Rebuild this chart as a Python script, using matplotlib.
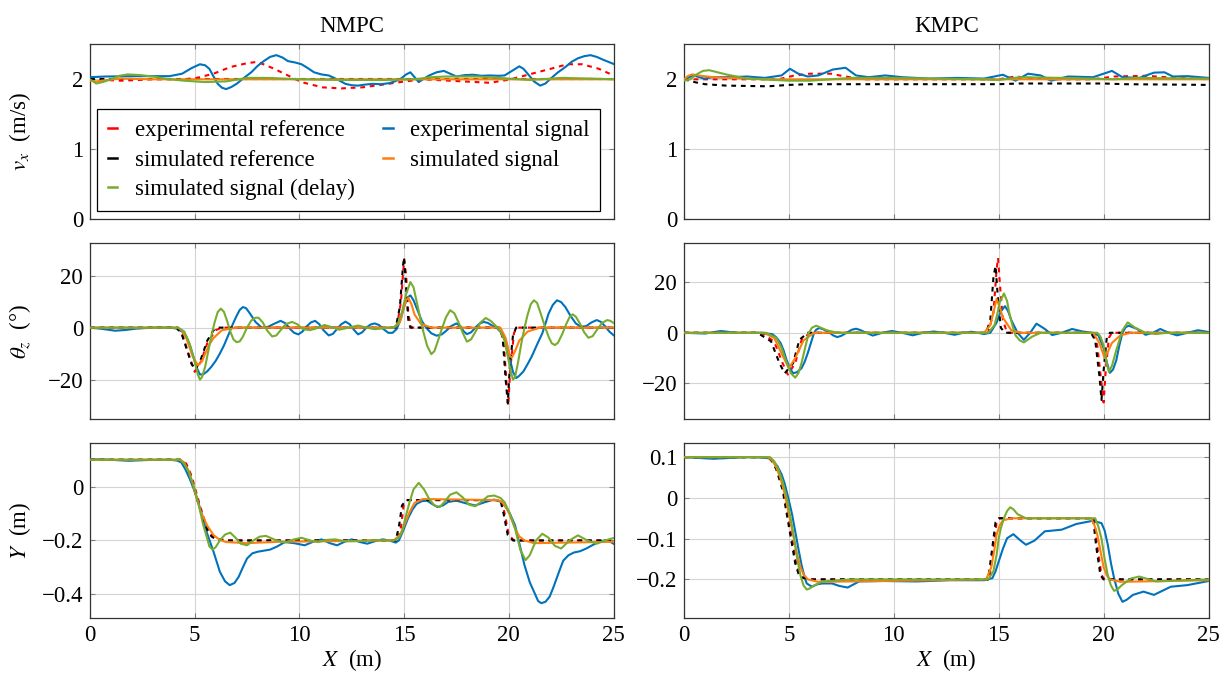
import matplotlib
matplotlib.use("Agg")
import matplotlib.pyplot as plt
from matplotlib.lines import Line2D
from matplotlib.ticker import FuncFormatter

plt.rcParams['font.family'] = ['Liberation Serif', 'DejaVu Serif']
plt.rcParams['mathtext.fontset'] = 'stix'
FS = 16.5
plt.rcParams['font.size'] = FS

X_TICKS = [0, 5, 10, 15, 20, 25]

# ---------------- NMPC, v_x (m/s) ----------------
nmpc_vx_exp_ref = [(0, 2.0), (1.5, 1.98), (3, 2.0), (4.5, 2.0), (5.1, 2.02), (5.9, 2.08), (6.7, 2.175),
                   (7.5, 2.23), (8.0, 2.25), (8.8, 2.15), (9.45, 2.055), (10.1, 1.96), (11.1, 1.885),
                   (12.0, 1.87), (13.0, 1.885), (14.0, 1.925), (14.8, 1.96), (15.9, 2.0), (17.5, 1.975),
                   (19.1, 1.95), (20.1, 2.0), (21.1, 2.08), (22.0, 2.15), (22.8, 2.215), (23.5, 2.215),
                   (24.3, 2.15), (25, 2.055)]
nmpc_vx_exp_sig = [(0, 2.03), (0.73, 2.04), (2.2, 2.045), (3.8, 2.045), (4.4, 2.08), (4.85, 2.16),
                   (5.25, 2.215), (5.5, 2.2), (5.7, 2.15), (5.9, 2.04), (6.1, 1.935), (6.3, 1.88),
                   (6.5, 1.86), (6.75, 1.89), (7.0, 1.935), (7.35, 2.02), (7.7, 2.10), (8.0, 2.19),
                   (8.3, 2.26), (8.6, 2.32), (8.9, 2.345), (9.2, 2.31), (9.45, 2.26), (9.8, 2.24),
                   (10.1, 2.215), (10.4, 2.16), (10.7, 2.10), (11.05, 2.07), (11.4, 2.055), (11.8, 2.0),
                   (12.2, 1.935), (12.5, 1.915), (12.8, 1.91), (13.15, 1.925), (13.5, 1.935), (13.9, 1.93),
                   (14.3, 1.945), (14.6, 1.975), (14.85, 2.01), (15.1, 2.07), (15.3, 2.10), (15.5, 2.03),
                   (15.7, 1.96), (15.95, 2.01), (16.2, 2.055), (16.55, 2.1), (16.9, 2.12), (17.2, 2.08),
                   (17.5, 2.04), (17.9, 2.06), (18.3, 2.065), (18.7, 2.05), (19.1, 2.055), (19.5, 2.05),
                   (19.8, 2.055), (20.15, 2.12), (20.5, 2.185), (20.7, 2.15), (20.9, 2.08), (21.2, 1.97),
                   (21.5, 1.91), (21.75, 1.94), (22.0, 2.01), (22.35, 2.1), (22.7, 2.175), (23.0, 2.25),
                   (23.3, 2.30), (23.6, 2.33), (23.9, 2.345), (24.2, 2.32), (24.5, 2.28), (24.75, 2.25),
                   (25, 2.22)]
nmpc_vx_sim_ref = [(0, 2.0), (25, 2.0)]
nmpc_vx_sim_sig = [(0, 1.98), (0.3, 1.97), (0.8, 1.99), (1.5, 2.01), (3, 2.0), (25, 2.0)]
nmpc_vx_sim_delay = [(0, 2.0), (0.3, 1.94), (0.6, 1.96), (1.0, 2.0), (1.4, 2.05), (1.8, 2.07),
                     (2.4, 2.06), (3.0, 2.04), (3.8, 2.0), (4.5, 1.98), (5.5, 1.96), (6.5, 1.97),
                     (7.5, 2.02), (8.5, 2.02), (10, 2.0), (12, 1.99), (14, 1.99), (15.5, 2.0),
                     (16.3, 2.03), (17, 2.04), (18.5, 2.04), (20, 2.01), (21, 1.99), (22.5, 2.02),
                     (24, 2.01), (25, 2.0)]

# ---------------- KMPC, v_x (m/s) ----------------
kmpc_vx_exp_ref = [(0, 2.0), (4.5, 2.0), (5.2, 2.05), (6.0, 2.08), (7.0, 2.08), (7.5, 2.05), (8.5, 2.0),
                   (15, 2.0), (15.8, 2.04), (16.5, 2.02), (17.5, 2.0), (19.5, 2.0), (20.5, 2.04),
                   (22, 2.05), (23, 2.03), (25, 2.0)]
kmpc_vx_exp_sig = [(0, 2.0), (0.45, 2.055), (0.95, 2.01), (1.4, 2.03), (2.2, 2.03), (3.0, 2.04),
                   (3.85, 2.02), (4.65, 2.055), (5.05, 2.15), (5.45, 2.08), (5.9, 2.04), (6.4, 2.055),
                   (7.1, 2.14), (7.7, 2.165), (8.2, 2.055), (8.8, 2.03), (9.6, 2.055), (10.4, 2.03),
                   (11.7, 2.01), (13.0, 2.02), (14.3, 2.01), (15.2, 2.065), (15.8, 1.98), (16.4, 2.08),
                   (17.0, 2.055), (17.5, 1.98), (18.3, 2.04), (19.5, 2.03), (20.4, 2.12), (20.9, 2.03),
                   (21.7, 2.02), (22.4, 2.095), (22.9, 2.1), (23.3, 2.04), (24.0, 2.045), (25, 2.02)]
kmpc_vx_sim_ref = [(0, 2.0), (0.5, 1.96), (1, 1.93), (2, 1.91), (4, 1.9), (5, 1.92), (6, 1.93),
                   (15, 1.93), (16, 1.94), (20, 1.94), (21, 1.93), (25, 1.92)]
kmpc_vx_sim_sig = [(0, 2.0), (0.2, 2.05), (0.4, 2.07), (0.8, 2.05), (1.4, 2.03), (2, 2.02), (4, 2.0),
                   (25, 2.0)]
kmpc_vx_sim_delay = [(0, 1.98), (0.3, 2.0), (0.6, 2.07), (0.9, 2.12), (1.2, 2.13), (1.6, 2.1), (2, 2.07),
                     (3, 2.01), (5, 1.98), (6, 1.98), (7, 2.0), (8, 2.02), (10, 2.02), (14, 2.0),
                     (15, 1.99), (16, 2.03), (18, 2.02), (19.5, 2.01), (20.5, 2.0), (21.5, 2.02),
                     (25, 2.01)]

# ---------------- NMPC, theta_z (deg) ----------------
nmpc_th_exp_ref = [(0, 0), (4.2, 0), (4.45, -3.5), (4.7, -10), (5.0, -17), (5.3, -13), (5.6, -6), (6.0, -1),
                   (6.3, 0), (14.65, 0), (14.85, 10), (15.0, 26), (15.1, 20), (15.2, 5), (15.35, 0),
                   (19.55, 0), (19.75, -5), (19.9, -22), (19.97, -30), (20.07, -16), (20.25, -2),
                   (20.4, 0), (25, 0)]
nmpc_th_exp_sig = [(0, 0), (0.6, -0.5), (1.2, -1.2), (1.7, -0.9), (2.2, -0.4), (3.0, 0), (3.8, 0),
                   (4.1, -0.3), (4.4, -1.5), (4.6, -3.5), (4.8, -7.5), (4.95, -11.5), (5.1, -15.5),
                   (5.25, -18), (5.4, -18), (5.6, -16.8), (5.8, -15), (6.0, -12.8), (6.2, -10),
                   (6.4, -6.8), (6.6, -3), (6.8, 1), (7.0, 4.5), (7.15, 6.8), (7.3, 7.9), (7.45, 7.5),
                   (7.65, 5.3), (7.9, 2.2), (8.2, 0), (8.5, 0.3), (8.8, 1.5), (9.1, 2.6), (9.35, 1.6),
                   (9.55, -0.5), (9.75, -2), (9.95, -2.6), (10.15, -1.5), (10.35, 0.5), (10.55, 2),
                   (10.75, 2.6), (10.95, 1.3), (11.15, -1), (11.4, -3), (11.6, -2.4), (11.8, -0.5),
                   (12.0, 1.3), (12.2, 2.3), (12.4, 1.3), (12.6, -0.8), (12.8, -2.6), (13.0, -1.8),
                   (13.2, 0), (13.4, 1.2), (13.6, 1.6), (13.8, 1), (14.0, -0.5), (14.25, -2),
                   (14.45, -2), (14.65, -0.5), (14.85, 3.5), (15.0, 8), (15.15, 11.5), (15.3, 12.4),
                   (15.45, 10.5), (15.65, 6.5), (15.85, 2.5), (16.05, 0), (16.3, -2.2), (16.55, -3.1),
                   (16.8, -2.6), (17.0, -1.3), (17.25, 0.6), (17.5, 1.6), (17.7, 0.5), (17.85, -1.5),
                   (18.0, -2.5), (18.2, -1.8), (18.4, 0), (18.6, 1.5), (18.8, 2.2), (19.0, 1.8),
                   (19.2, 0.8), (19.45, -0.3), (19.7, -2.5), (19.9, -6), (20.05, -12), (20.2, -17),
                   (20.35, -19.4), (20.5, -18.5), (20.7, -16.8), (20.9, -14), (21.1, -11), (21.35, -6.5),
                   (21.6, -2.2), (21.75, 1.5), (21.9, 5.4), (22.1, 8.7), (22.3, 10.5), (22.5, 9.8),
                   (22.7, 7.9), (22.95, 4.5), (23.2, 1.6), (23.45, 0.3), (23.7, 0.6), (23.95, 2),
                   (24.2, 2.9), (24.4, 2.2), (24.6, 0.5), (24.8, -1.5), (25, -2.9)]
nmpc_th_sim_ref = [(0, 0), (4.15, 0), (4.4, -3), (4.65, -9), (4.85, -14), (5.05, -16), (5.3, -12),
                   (5.6, -5), (5.9, -1), (6.1, 0), (14.6, 0), (14.8, 8), (14.95, 24), (15.0, 27),
                   (15.1, 15), (15.2, 3), (15.3, 0), (19.5, 0), (19.7, -3), (19.85, -20), (19.95, -29),
                   (20.05, -15), (20.2, -3), (20.35, 0), (25, 0)]
nmpc_th_sim_sig = [(0, 0), (4.2, 0), (4.4, -1.2), (4.6, -4), (4.75, -7.5), (4.9, -11), (5.15, -14.5),
                   (5.35, -13), (5.5, -10), (5.7, -6.5), (5.9, -4), (6.3, -1), (7.0, 0), (14.5, 0),
                   (14.8, 2), (15.0, 8), (15.1, 10.5), (15.2, 11.5), (15.35, 9), (15.5, 5), (15.8, 1.5),
                   (16.3, 0), (19.6, 0), (19.85, -4), (20.05, -11), (20.15, -11.5), (20.3, -9),
                   (20.5, -5), (20.9, -1.5), (21.5, 0), (25, 0)]
nmpc_th_sim_delay = [(0, 0), (4.2, 0), (4.5, -1.5), (4.75, -6), (5.0, -13), (5.15, -18), (5.25, -20),
                     (5.35, -19), (5.5, -15), (5.65, -9), (5.8, -3), (5.95, 2), (6.1, 6), (6.25, 7.3),
                     (6.4, 6), (6.55, 2.5), (6.7, -1.5), (6.85, -4.5), (7.0, -5.6), (7.15, -5.3),
                     (7.3, -3.5), (7.5, 0), (7.7, 2.7), (7.9, 3.8), (8.05, 3.8), (8.25, 2), (8.45, -1),
                     (8.7, -3.4), (8.9, -3), (9.1, -1), (9.35, 1.3), (9.65, 2.2), (9.9, 1.3),
                     (10.15, -0.5), (10.5, -1), (10.8, -0.3), (11.2, 1), (11.55, 0.2), (11.9, -0.8),
                     (12.35, 0), (12.8, 0.8), (13.2, 0), (13.6, -0.6), (14.1, -0.2), (14.5, 0),
                     (14.7, 1.5), (14.9, 6), (15.1, 13), (15.3, 17.5), (15.45, 15.5), (15.6, 10),
                     (15.75, 4.5), (15.9, -1), (16.1, -7), (16.3, -10.2), (16.45, -9), (16.6, -5.5),
                     (16.8, -0.5), (17.0, 4), (17.2, 6.7), (17.4, 5.5), (17.6, 2), (17.8, -2),
                     (18.0, -5.4), (18.2, -4.5), (18.45, -1), (18.65, 2), (18.9, 3.7), (19.15, 2.5),
                     (19.4, 0.5), (19.6, -1.5), (19.8, -5), (19.95, -11), (20.1, -17), (20.2, -20),
                     (20.3, -19), (20.45, -13), (20.6, -6), (20.75, 0), (20.9, 5), (21.05, 9),
                     (21.2, 10.5), (21.35, 9.5), (21.5, 6), (21.7, 1), (21.9, -3.5), (22.05, -6),
                     (22.2, -6.7), (22.35, -5.8), (22.55, -2.5), (22.75, 1.5), (22.9, 4), (23.05, 5.1),
                     (23.2, 4.2), (23.4, 1.5), (23.6, -1.8), (23.8, -3.9), (24.0, -3.3), (24.2, -1),
                     (24.45, 1.8), (24.7, 2.9), (24.85, 2.6), (25, 1.8)]

# ---------------- KMPC, theta_z (deg) ----------------
kmpc_th_exp_ref = [(0, 0), (3.7, 0), (4.3, -3.5), (4.7, -12), (4.95, -16.5), (5.3, -12), (5.6, -3),
                   (6.0, 0), (14.5, 0), (14.75, 8), (14.9, 25), (14.97, 29.5), (15.05, 20), (15.2, 5),
                   (15.4, 0), (19.5, 0), (19.7, -5), (19.9, -20), (20.0, -27.5), (20.1, -15),
                   (20.25, -2), (20.4, 0), (25, 0)]
kmpc_th_exp_sig = [(0, 0), (1.0, -0.3), (1.75, 0.7), (2.5, 0), (3.5, 0), (4.2, -0.5), (4.4, -1.8),
                   (4.6, -4), (4.75, -7), (4.9, -11), (5.05, -14), (5.2, -16), (5.4, -15.5), (5.6, -14),
                   (5.75, -11.5), (5.9, -8), (6.05, -4), (6.2, 0), (6.3, 1.2), (6.45, 1.9), (6.65, 1.3),
                   (6.9, 0.3), (7.1, -1), (7.3, -1.7), (7.5, -1.2), (7.75, 0), (8.0, 1.2), (8.2, 1.6),
                   (8.4, 1.1), (8.6, 0.3), (9.0, -1.1), (9.45, 0), (9.9, 0.7), (10.4, 0), (10.9, -1),
                   (11.4, 0), (11.9, 0.5), (12.4, 0), (12.9, -0.8), (13.3, 0), (13.7, 0.4), (14.0, 0),
                   (14.3, -0.5), (14.6, 0), (14.9, 4), (15.1, 8.5), (15.3, 10.5), (15.45, 8.5),
                   (15.6, 5), (15.9, 0), (16.2, -2.8), (16.5, 0), (16.8, 3.6), (17.2, 1.5),
                   (17.55, -0.9), (18.0, 0), (18.5, 1.5), (19.0, 0.5), (19.45, 0), (19.75, -1),
                   (20.0, -6), (20.15, -11.5), (20.3, -15.8), (20.45, -14.5), (20.6, -11), (20.75, -5),
                   (20.9, 0), (21.05, 2.2), (21.2, 2.8), (21.6, 1.5), (22.0, -0.8), (22.35, 0),
                   (22.7, 1.5), (23.1, 0), (23.5, -1), (24.0, 0), (24.5, 1), (25, 0.3)]
kmpc_th_sim_ref = [(0, 0), (3.5, 0), (4.15, -3.4), (4.55, -12), (4.8, -16), (5.2, -12), (5.5, -2.8),
                   (5.9, 0), (14.4, 0), (14.6, 5), (14.75, 22), (14.85, 26.4), (14.95, 15), (15.1, 2),
                   (15.3, 0), (19.4, 0), (19.6, -3), (19.8, -17), (19.9, -26.5), (20.0, -15),
                   (20.15, -2), (20.3, 0), (25, 0)]
kmpc_th_sim_sig = [(0, 0), (3.8, 0), (4.3, -2), (4.7, -9), (5.0, -14), (5.3, -10), (5.7, -3), (6.2, 0),
                   (14.3, 0), (14.6, 3), (14.75, 8), (14.9, 13.4), (15.05, 10), (15.2, 6), (15.6, 1),
                   (16.0, 0), (19.5, 0), (19.8, -4), (20.05, -10), (20.2, -7.5), (20.4, -4), (20.8, -1),
                   (21.3, 0), (25, 0)]
kmpc_th_sim_delay = [(0, 0), (3.9, 0), (4.4, -2), (4.65, -6), (4.9, -12), (5.1, -16), (5.3, -17.7),
                     (5.45, -16), (5.6, -12), (5.8, -5), (5.95, 0), (6.1, 2), (6.3, 2.8), (6.8, 1),
                     (7.3, 0), (14.5, 0), (14.8, 3), (14.95, 8), (15.05, 12), (15.25, 15.5),
                     (15.4, 12.5), (15.5, 8), (15.65, 3), (15.8, -1), (16.0, -3), (16.2, -3.8),
                     (16.6, -1.5), (17.0, 0), (19.7, 0), (19.85, -1.5), (20.0, -5), (20.15, -12),
                     (20.25, -15.4), (20.4, -13), (20.6, -7), (20.9, 1), (21.15, 4.1), (21.5, 2),
                     (22.0, 0), (22.5, -0.5), (23.0, 0), (25, 0)]

# ---------------- NMPC, Y (m) ----------------
nmpc_y_exp_ref = [(0, 0.1), (4.35, 0.1), (4.6, 0.085), (4.85, 0.04), (5.05, -0.015), (5.25, -0.07),
                  (5.45, -0.12), (5.65, -0.16), (5.85, -0.185), (6.05, -0.195), (6.6, -0.2),
                  (14.7, -0.2), (14.85, -0.15), (14.98, -0.07), (15.15, -0.05), (19.65, -0.05),
                  (19.8, -0.1), (20.0, -0.18), (20.25, -0.2), (25, -0.2)]
nmpc_y_exp_sig = [(0, 0.102), (0.9, 0.1), (1.86, 0.096), (2.8, 0.099), (3.8, 0.1), (4.15, 0.097),
                  (4.36, 0.09), (4.55, 0.065), (4.77, 0.028), (4.97, -0.012), (5.17, -0.058),
                  (5.37, -0.11), (5.57, -0.169), (5.9, -0.242), (6.2, -0.316), (6.45, -0.352),
                  (6.67, -0.366), (6.9, -0.358), (7.1, -0.335), (7.3, -0.3), (7.5, -0.267),
                  (7.75, -0.248), (8.0, -0.242), (8.3, -0.238), (8.6, -0.234), (8.95, -0.222),
                  (9.3, -0.206), (9.75, -0.21), (10.25, -0.218), (10.65, -0.205), (11.06, -0.196),
                  (11.45, -0.21), (11.8, -0.218), (12.15, -0.205), (12.5, -0.196), (12.9, -0.206),
                  (13.24, -0.212), (13.6, -0.203), (13.97, -0.196), (14.3, -0.2), (14.6, -0.208),
                  (14.75, -0.2), (14.86, -0.181), (15.0, -0.155), (15.18, -0.119), (15.4, -0.085),
                  (15.6, -0.064), (15.85, -0.054), (16.1, -0.052), (16.35, -0.065), (16.6, -0.076),
                  (16.85, -0.07), (17.1, -0.057), (17.5, -0.052), (17.95, -0.062), (18.4, -0.07),
                  (18.85, -0.058), (19.3, -0.048), (19.6, -0.056), (19.86, -0.076), (20.05, -0.1),
                  (20.3, -0.144), (20.5, -0.21), (20.75, -0.292), (21.0, -0.355), (21.2, -0.39),
                  (21.4, -0.425), (21.55, -0.433), (21.75, -0.428), (21.95, -0.409), (22.15, -0.37),
                  (22.4, -0.316), (22.6, -0.275), (22.85, -0.255), (23.1, -0.245), (23.4, -0.24),
                  (23.7, -0.23), (23.98, -0.218), (24.3, -0.205), (24.6, -0.199), (24.8, -0.203),
                  (25, -0.212)]
nmpc_y_sim_ref = [(0, 0.1), (4.3, 0.1), (4.55, 0.085), (4.8, 0.04), (5.0, -0.015), (5.2, -0.07),
                  (5.4, -0.12), (5.6, -0.16), (5.8, -0.185), (6.0, -0.195), (6.5, -0.2), (14.6, -0.2),
                  (14.75, -0.15), (14.9, -0.07), (15.1, -0.05), (19.6, -0.05), (19.75, -0.1),
                  (19.95, -0.18), (20.2, -0.2), (25, -0.2)]
nmpc_y_sim_sig = [(0, 0.1), (4.3, 0.1), (4.5, 0.09), (4.7, 0.06), (4.93, 0.004), (5.1, -0.045),
                  (5.3, -0.095), (5.6, -0.145), (5.9, -0.18), (6.2, -0.198), (6.5, -0.206),
                  (7.5, -0.21), (9, -0.205), (14.5, -0.2), (14.8, -0.18), (15.0, -0.145),
                  (15.26, -0.095), (15.5, -0.06), (15.9, -0.046), (19.5, -0.05), (19.7, -0.06),
                  (19.9, -0.08), (20.1, -0.115), (20.3, -0.156), (20.5, -0.185), (20.75, -0.2),
                  (21.2, -0.21), (25, -0.205)]
nmpc_y_sim_delay = [(0, 0.1), (4.3, 0.1), (4.5, 0.085), (4.75, 0.05), (5.0, -0.01), (5.2, -0.07),
                    (5.4, -0.14), (5.55, -0.18), (5.7, -0.222), (5.85, -0.234), (6.0, -0.225),
                    (6.2, -0.2), (6.45, -0.178), (6.7, -0.171), (6.95, -0.19), (7.2, -0.212),
                    (7.5, -0.218), (7.8, -0.2), (8.1, -0.186), (8.4, -0.183), (8.85, -0.198),
                    (9.3, -0.208), (9.7, -0.197), (10.1, -0.19), (10.5, -0.2), (10.9, -0.206),
                    (11.3, -0.198), (11.7, -0.196), (12.2, -0.203), (12.6, -0.203), (13.5, -0.199),
                    (14.5, -0.2), (14.75, -0.19), (14.9, -0.169), (15.05, -0.12), (15.26, -0.058),
                    (15.45, -0.01), (15.7, 0.014), (15.95, -0.01), (16.2, -0.046), (16.45, -0.07),
                    (16.7, -0.076), (16.95, -0.055), (17.2, -0.03), (17.5, -0.021), (17.8, -0.04),
                    (18.1, -0.067), (18.4, -0.073), (18.7, -0.055), (19.0, -0.036), (19.3, -0.033),
                    (19.6, -0.042), (19.8, -0.058), (20.05, -0.1), (20.3, -0.156), (20.55, -0.235),
                    (20.8, -0.273), (21.0, -0.255), (21.3, -0.2), (21.6, -0.175), (21.9, -0.19),
                    (22.2, -0.22), (22.5, -0.23), (22.9, -0.2), (23.3, -0.181), (23.75, -0.2),
                    (24.2, -0.212), (24.6, -0.2), (25, -0.191)]

# ---------------- KMPC, Y (m) ----------------
kmpc_y_exp_ref = [(0, 0.1), (4.05, 0.1), (4.25, 0.09), (4.45, 0.07), (4.75, 0.02), (5.05, -0.07),
                  (5.35, -0.16), (5.5, -0.185), (5.65, -0.195), (6.05, -0.2), (14.55, -0.2),
                  (14.7, -0.14), (14.9, -0.06), (15.05, -0.05), (19.55, -0.05), (19.7, -0.12),
                  (19.9, -0.19), (20.05, -0.2), (25, -0.2)]
kmpc_y_exp_sig = [(0, 0.1), (1.4, 0.096), (3.0, 0.1), (3.8, 0.099), (4.05, 0.097), (4.25, 0.09),
                  (4.45, 0.078), (4.65, 0.058), (4.8, 0.035), (4.97, 0.0), (5.15, -0.04), (5.3, -0.082),
                  (5.45, -0.124), (5.6, -0.164), (5.75, -0.195), (5.85, -0.21), (6.1, -0.218),
                  (6.35, -0.212), (6.6, -0.21), (7.06, -0.21), (7.4, -0.216), (7.8, -0.22),
                  (8.35, -0.205), (9.5, -0.204), (11.1, -0.205), (12.7, -0.202), (14.3, -0.202),
                  (14.7, -0.197), (14.85, -0.18), (15.0, -0.156), (15.2, -0.125), (15.4, -0.099),
                  (15.7, -0.089), (16.0, -0.103), (16.3, -0.115), (16.7, -0.105), (17.2, -0.082),
                  (18.0, -0.078), (18.7, -0.064), (19.5, -0.056), (19.9, -0.062), (20.05, -0.08),
                  (20.2, -0.115), (20.35, -0.16), (20.5, -0.197), (20.7, -0.235), (20.9, -0.255),
                  (21.1, -0.25), (21.4, -0.238), (21.9, -0.23), (22.4, -0.238), (23.2, -0.218),
                  (24.0, -0.214), (25, -0.204)]
kmpc_y_sim_ref = [(0, 0.1), (4.0, 0.1), (4.2, 0.09), (4.4, 0.07), (4.7, 0.02), (5.0, -0.07),
                  (5.3, -0.16), (5.45, -0.185), (5.6, -0.195), (6.0, -0.2), (14.5, -0.2),
                  (14.65, -0.14), (14.85, -0.06), (15.0, -0.05), (19.5, -0.05), (19.65, -0.12),
                  (19.85, -0.19), (20.0, -0.2), (25, -0.2)]
kmpc_y_sim_sig = [(0, 0.1), (4.0, 0.1), (4.2, 0.092), (4.4, 0.075), (4.6, 0.048), (4.8, 0.01),
                  (5.0, -0.04), (5.2, -0.09), (5.4, -0.14), (5.55, -0.17), (5.7, -0.188), (5.9, -0.2),
                  (6.4, -0.206), (8, -0.205), (14.4, -0.2), (14.65, -0.17), (14.8, -0.125),
                  (14.9, -0.09), (15.05, -0.067), (15.2, -0.055), (15.6, -0.05), (19.4, -0.05),
                  (19.55, -0.065), (19.7, -0.09), (19.85, -0.13), (20.0, -0.17), (20.15, -0.19),
                  (20.3, -0.2), (20.8, -0.206), (25, -0.202)]
kmpc_y_sim_delay = [(0, 0.1), (4.1, 0.1), (4.3, 0.09), (4.5, 0.07), (4.7, 0.04), (4.9, 0.0),
                    (5.1, -0.055), (5.25, -0.1), (5.4, -0.15), (5.55, -0.19), (5.7, -0.215),
                    (5.85, -0.225), (6.0, -0.222), (6.2, -0.215), (6.6, -0.205), (8, -0.2),
                    (14.5, -0.2), (14.75, -0.18), (14.9, -0.14), (15.0, -0.1), (15.1, -0.075),
                    (15.25, -0.05), (15.4, -0.032), (15.55, -0.023), (15.7, -0.028), (15.9, -0.04),
                    (16.3, -0.05), (19.6, -0.05), (19.75, -0.07), (19.9, -0.1), (20.05, -0.15),
                    (20.2, -0.19), (20.35, -0.215), (20.5, -0.228), (20.65, -0.225), (20.85, -0.215),
                    (21.3, -0.198), (21.7, -0.193), (22.5, -0.205), (25, -0.2)]

labels = ['experimental reference', 'experimental signal', 'simulated reference',
          'simulated signal', 'simulated signal (delay)']
colors = ['#FF0000', '#0072BD', '#000000', '#FF7F0E', '#77AC30']
dashed = [True, False, True, False, False]

panels = [
    [nmpc_vx_exp_ref, nmpc_vx_exp_sig, nmpc_vx_sim_ref, nmpc_vx_sim_sig, nmpc_vx_sim_delay],
    [kmpc_vx_exp_ref, kmpc_vx_exp_sig, kmpc_vx_sim_ref, kmpc_vx_sim_sig, kmpc_vx_sim_delay],
    [nmpc_th_exp_ref, nmpc_th_exp_sig, nmpc_th_sim_ref, nmpc_th_sim_sig, nmpc_th_sim_delay],
    [kmpc_th_exp_ref, kmpc_th_exp_sig, kmpc_th_sim_ref, kmpc_th_sim_sig, kmpc_th_sim_delay],
    [nmpc_y_exp_ref, nmpc_y_exp_sig, nmpc_y_sim_ref, nmpc_y_sim_sig, nmpc_y_sim_delay],
    [kmpc_y_exp_ref, kmpc_y_exp_sig, kmpc_y_sim_ref, kmpc_y_sim_sig, kmpc_y_sim_delay],
]
ylims = [(0, 2.5), (0, 2.5), (-35, 32.4), (-33.9, 35.3), (-0.487, 0.161), (-0.294, 0.134)]
yticks = [[0, 1, 2], [0, 1, 2], [-20, 0, 20], [-20, 0, 20], [-0.4, -0.2, 0], [-0.2, -0.1, 0, 0.1]]
ylabels = [r'$v_x$  (m/s)', r'$\theta_z$  (°)', r'$Y$  (m)']


def fmt(v, pos):
    return ('%g' % v).replace('-', '\u2212')


fig = plt.figure(figsize=(12.28, 6.73), dpi=100)
W, H = 1228, 673
col_left = [90, 684]
col_w = [523.5, 524.5]
row_top = [44.3, 243.3, 443.3]
row_h = [175, 175.4, 174.4]

axes = []
for i in range(6):
    r, c = divmod(i, 2)
    ax = fig.add_axes([col_left[c] / W, 1 - (row_top[r] + row_h[r]) / H, col_w[c] / W, row_h[r] / H])
    axes.append(ax)
    for k, pts in enumerate(panels[i]):
        xs = [p[0] for p in pts]
        ys = [p[1] for p in pts]
        ls = (0, (2.3, 2.3)) if dashed[k] else '-'
        ax.plot(xs, ys, color=colors[k], lw=1.5, ls=ls, label=labels[k], zorder=3 + k)
    ax.set_xlim(0, 25)
    ax.set_ylim(*ylims[i])
    ax.set_xticks(X_TICKS)
    ax.set_yticks(yticks[i])
    ax.yaxis.set_major_formatter(FuncFormatter(fmt))
    ax.grid(True, color='#d4d4d4', lw=0.8)
    ax.tick_params(direction='in', length=3.5, color='#808080', top=True, right=True, labelsize=FS,
                   pad=5)
    for s in ax.spines.values():
        s.set_color('#333333')
        s.set_linewidth(0.9)
    if r < 2:
        ax.tick_params(labelbottom=False)
    else:
        ax.set_xlabel(r'$X$  (m)', fontsize=FS, labelpad=1)
    if c == 0:
        ax.set_ylabel(ylabels[r], fontsize=FS)
        ax.yaxis.set_label_coords(-0.108, 0.5)

axes[0].set_title('NMPC', fontsize=FS, pad=9)
axes[1].set_title('KMPC', fontsize=FS, pad=9)

# legend: short solid marks, two columns (filled column-wise)
handles = [Line2D([], [], color=colors[k], lw=1.8) for k in range(5)]
order = [0, 2, 4, 1, 3]
leg = axes[0].legend([handles[j] for j in order], [labels[j] for j in order], ncol=2,
                     loc='lower left', bbox_to_anchor=(0.0134, 0.047, 0.961, 0.59), mode='expand',
                     borderaxespad=0, fancybox=False, framealpha=1, edgecolor='black',
                     handlelength=0.42, handletextpad=0.75, labelspacing=0.37, borderpad=0.47,
                     fontsize=FS)
leg.get_frame().set_linewidth(0.9)
leg.set_zorder(20)

fig.savefig('out.png', dpi=100)
